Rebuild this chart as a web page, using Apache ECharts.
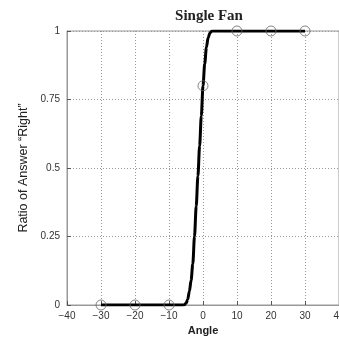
<!DOCTYPE html>
<html><head><meta charset="utf-8">
<script src="https://cdn.jsdelivr.net/npm/echarts@6/dist/echarts.min.js"></script>
<style>html,body{margin:0;padding:0;background:#fff}#c{width:339px;height:339px}</style>
</head><body><div id="c"></div>
<script>
// Observed points (angle, ratio)
var obsAngles = [-30, -20, -10, 0, 10, 20, 30];
var obsRatios = [0, 0, 0, 0.8, 1, 1, 1];
// Fitted curve
var fitAngles = [-30, -10, -6, -5.5, -5, -4.5, -4, -3.5, -3, -2.5, -2, -1.5, -1, -0.5, 0, 0.5, 1, 1.5, 2, 2.5, 3, 10, 30];
var fitRatios = [0, 0, 0, 0.001, 0.006, 0.02, 0.05, 0.09, 0.15, 0.25, 0.36, 0.47, 0.58, 0.69, 0.8, 0.88, 0.94, 0.975, 0.992, 0.999, 1, 1, 1];
var xTicks = [-40, 40, 10];
var yTicks = [0, 1, 0.25];

function pairs(a, b) { return a.map(function (v, i) { return [v, b[i]]; }); }

var chart = echarts.init(document.getElementById('c'), null, {renderer: 'canvas'});
chart.setOption({
  animation: false,
  backgroundColor: '#fff',
  title: {
    text: 'Single Fan', left: 204, top: 4, textAlign: 'center',
    textStyle: {fontFamily: 'Liberation Serif', fontWeight: 'bold', fontSize: 15, color: '#222'}
  },
  grid: {left: 67, top: 31, right: 0, bottom: 34, show: true, borderColor: '#999', borderWidth: 1,
    containLabel: false, outerBoundsMode: 'none'},
  xAxis: {
    type: 'value', min: xTicks[0], max: xTicks[1], interval: xTicks[2],
    name: 'Angle', nameLocation: 'middle', nameGap: 20,
    nameTextStyle: {fontFamily: 'Liberation Sans', fontWeight: 'bold', fontSize: 11, color: '#222'},
    axisLine: {onZero: false, lineStyle: {color: '#999'}},
    axisTick: {inside: true, length: 4, lineStyle: {color: '#555'}},
    axisLabel: {fontFamily: 'Liberation Sans', fontSize: 10, color: '#333', margin: 6,
      formatter: function (v) { return v < 0 ? '\u2212' + Math.abs(v) : String(v); }},
    splitLine: {show: true, lineStyle: {type: [1, 2], color: '#999'}}
  },
  yAxis: {
    type: 'value', min: yTicks[0], max: yTicks[1], interval: yTicks[2],
    name: 'Ratio of Answer \u201CRight\u201D', nameLocation: 'middle', nameGap: 31, nameRotate: 90,
    nameTextStyle: {fontFamily: 'Liberation Sans', fontSize: 12.5, color: '#222'},
    axisLine: {show: true, onZero: false, lineStyle: {color: '#999'}},
    axisTick: {show: true, inside: true, length: 4, lineStyle: {color: '#555'}},
    axisLabel: {fontFamily: 'Liberation Sans', fontSize: 10, color: '#333', margin: 7},
    splitLine: {show: true, lineStyle: {type: [1, 2], color: '#999'}}
  },
  series: [
    {
      type: 'line', data: pairs(fitAngles, fitRatios), showSymbol: false,
      smooth: 0.3, smoothMonotone: 'x',
      lineStyle: {color: '#000', width: 3}, z: 3
    },
    {
      type: 'scatter', data: pairs(obsAngles, obsRatios), symbol: 'circle', symbolSize: 10,
      itemStyle: {color: 'rgba(0,0,0,0)', borderColor: '#666', borderWidth: 1}, z: 4
    }
  ]
});
</script></body></html>
